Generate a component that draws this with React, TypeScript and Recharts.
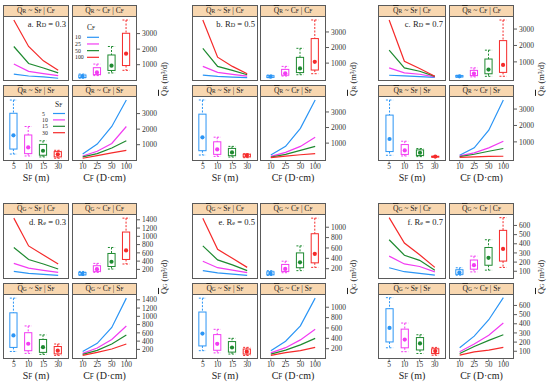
import React from "react";
import { Bar, ComposedChart, Line, XAxis, YAxis } from "recharts";

// category levels
const sfLevels = ["5", "10", "15", "30"];
const cfLevels = ["10", "25", "50", "100"];

// mean discharge, rows = SF (5, 10, 15, 30 m), cols = CF (10, 25, 50, 100 D·cm)
const qrA = [
  [400, 1040, 2170, 3870],
  [275, 575, 1080, 2170],
  [215, 430, 790, 1250],
  [130, 300, 470, 640],
];
const qrB = [
  [235, 790, 1950, 3770],
  [150, 405, 790, 1380],
  [105, 280, 530, 790],
  [65, 170, 255, 320],
];
const qrC = [
  [185, 635, 1715, 3550],
  [143, 330, 633, 1040],
  [102, 245, 430, 595],
  [60, 85, 120, 125],
];
const qgD = [
  [150, 345, 730, 1440],
  [103, 232, 440, 767],
  [79, 176, 330, 550],
  [55, 127, 208, 330],
];
const qgE = [
  [162, 345, 640, 1175],
  [120, 220, 370, 574],
  [97, 172, 275, 400],
  [70, 123, 163, 226],
];
const qgF = [
  [138, 265, 444, 685],
  [95, 180, 275, 408],
  [76, 152, 219, 280],
  [57, 93, 112, 142],
];

const ticksR = [1000, 2000, 3000];
const ticksD = [200, 400, 600, 800, 1000, 1200, 1400];
const ticksE = [200, 400, 600, 800, 1000];
const ticksF = [100, 200, 300, 400, 500, 600];

const domainA = [-80, 4130];
const domainB = [-180, 4025];
const domainC = [-195, 3795];
const domainD = [-45, 1540];
const domainE = [-8, 1255];
const domainF = [10, 725];

const rdLabels = ["0.3", "0.5", "0.7"];

const colors = ["#2b95f5", "#f23cf2", "#1e8a30", "#f52a2a"];
const serif = "Liberation Serif, Times New Roman, serif";
const frameColor = "#5a5a5a";
const stripFill = "#f8d7b0";

const cols = [
  { L: 3, LW: 66, R: 72, RW: 65 },
  { L: 192, LW: 66, R: 260, RW: 66 },
  { L: 378, LW: 68, R: 449, RW: 65 },
];
const rowTops = [4.5, 202.5];
const PH = 65.5;

function fivenum(vals: number[]) {
  const s = [...vals].sort((a, b) => a - b);
  return {
    min: s[0],
    q1: (s[0] + s[1]) / 2,
    med: (s[1] + s[2]) / 2,
    q3: (s[2] + s[3]) / 2,
    max: s[3],
  };
}

function BoxShape(props: any) {
  const { x, y, width, height, payload, index } = props;
  const top = Math.min(y, y + height);
  const bot = Math.max(y, y + height);
  const { min, max, q1, q3, med } = payload;
  const py = (v: number) => bot - ((bot - top) * (v - min)) / (max - min || 1);
  const cx = x + width / 2;
  const hw = 3.6;
  const c = colors[index];
  return (
    <g>
      <line x1={cx} x2={cx} y1={py(max)} y2={py(q3)} stroke={c} strokeDasharray="2 1.5" />
      <line x1={cx} x2={cx} y1={py(q1)} y2={py(min)} stroke={c} strokeDasharray="2 1.5" />
      <line x1={cx - hw} x2={cx + hw} y1={py(max)} y2={py(max)} stroke={c} strokeDasharray="2 1.5" />
      <line x1={cx - hw} x2={cx + hw} y1={py(min)} y2={py(min)} stroke={c} strokeDasharray="2 1.5" />
      <rect x={cx - hw} y={py(q3)} width={hw * 2} height={Math.max(0.5, py(q1) - py(q3))} fill="none" stroke={c} />
      <circle cx={cx} cy={py(med)} r={2.1} fill={c} />
    </g>
  );
}

const Sm = ({ children }: any) => <span style={{ fontSize: "0.72em" }}>{children}</span>;

function Title({ q, a, b }: { q: string; a: string; b: string }) {
  return (
    <>
      <span style={{ textDecoration: "overline" }}>Q</span>
      <Sm>{q}</Sm> ~ {a}
      <Sm>F</Sm> | {b}
      <Sm>F</Sm>
    </>
  );
}

const tickStyle = { fontSize: 7.5, fill: "#333", fontFamily: serif };

function Sub(props: any) {
  const { kind, rows, left, top, W, showX, showY, ticks, domain, title, children } = props;
  const pad = W * 0.052;
  return (
    <>
      <div
        style={{
          position: "absolute",
          left,
          top,
          width: W,
          height: 12,
          boxSizing: "border-box",
          border: `1px solid ${frameColor}`,
          background: stripFill,
          fontFamily: serif,
          fontSize: 7.6,
          lineHeight: "10px",
          textAlign: "center",
          color: "#222",
          whiteSpace: "nowrap",
        }}
      >
        {title}
      </div>
      <div style={{ position: "absolute", left, top: top + 11 }}>
        <ComposedChart
          width={W + (showY ? 32 : 0)}
          height={PH + (showX ? 13 : 0)}
          data={rows}
          margin={{ top: 0, right: 0, bottom: 0, left: 0 }}
        >
          <XAxis
            dataKey="x"
            type="category"
            scale="band"
            padding={{ left: pad, right: pad }}
            hide={!showX}
            height={13}
            tickSize={2}
            tickMargin={0}
            axisLine={false}
            interval={0}
            tick={tickStyle}
            tickLine={{ stroke: frameColor }}
          />
          <YAxis
            orientation="right"
            type="number"
            domain={domain}
            ticks={ticks}
            interval={0}
            allowDataOverflow
            hide={!showY}
            width={32}
            tickSize={3}
            tickMargin={2}
            axisLine={false}
            tick={tickStyle}
            tickLine={{ stroke: frameColor }}
          />
          {kind === "box" ? (
            <Bar
              dataKey={(d: any) => [d.min, d.max]}
              barSize={8}
              shape={BoxShape}
              isAnimationActive={false}
            />
          ) : (
            [0, 1, 2, 3].map((k) => (
              <Line
                key={k}
                type="linear"
                dataKey={`v${k}`}
                stroke={colors[k]}
                strokeWidth={1.2}
                dot={false}
                isAnimationActive={false}
              />
            ))
          )}
        </ComposedChart>
        <div
          style={{
            position: "absolute",
            left: 0,
            top: 0,
            width: W,
            height: PH,
            boxSizing: "border-box",
            border: `1px solid ${frameColor}`,
            pointerEvents: "none",
          }}
        />
        {children}
      </div>
    </>
  );
}

function LegendBox({ title, labels, textX, lineX, titleX, y0, step }: any) {
  return (
    <svg
      style={{ position: "absolute", left: 0, top: 0, overflow: "visible" }}
      width={40}
      height={40}
      fontFamily={serif}
    >
      <text x={titleX} y={y0 - 7} fontSize={7.5} fill="#222">
        {title}
        <tspan fontSize={5.5}>F</tspan>
      </text>
      {labels.map((l: string, i: number) => (
        <g key={l}>
          <text x={textX} y={y0 + i * step + 2} fontSize={5.8} fill="#222">
            {l}
          </text>
          <line x1={lineX} x2={lineX + 12} y1={y0 + i * step} y2={y0 + i * step} stroke={colors[i]} strokeWidth={1.2} />
        </g>
      ))}
    </svg>
  );
}

function Panel({ q, ticks, domain, col, rowTop, tag, qs, param, rd, legend }: any) {
  const c = cols[col];
  const bySf = sfLevels.map((x, i) => ({ x, v0: q[i][0], v1: q[i][1], v2: q[i][2], v3: q[i][3] }));
  const byCf = cfLevels.map((x, j) => ({ x, v0: q[0][j], v1: q[1][j], v2: q[2][j], v3: q[3][j] }));
  const boxCf = cfLevels.map((x, j) => ({ x, ...fivenum(q.map((r: number[]) => r[j])) }));
  const boxSf = sfLevels.map((x, i) => ({ x, ...fivenum(q[i]) }));
  const t2 = rowTop + 80;
  const common = { ticks, domain };
  const titleStyle: any = {
    position: "absolute",
    top: rowTop + 167,
    textAlign: "center",
    fontFamily: serif,
    fontSize: 10,
    lineHeight: "12px",
    color: "#222",
    whiteSpace: "nowrap",
  };
  return (
    <>
      <Sub kind="lines" rows={bySf} left={c.L} top={rowTop} W={c.LW} title={<Title q={qs} a="S" b="C" />} {...common}>
        <div
          style={{
            position: "absolute",
            right: 3,
            top: 3,
            fontFamily: serif,
            fontSize: 8.6,
            lineHeight: "10px",
            color: "#222",
            whiteSpace: "nowrap",
            textAlign: "right",
            width: 60,
          }}
        >
          {tag}. R<Sm>{param}</Sm> = {rd}
        </div>
      </Sub>
      <Sub kind="box" rows={boxCf} left={c.R} top={rowTop} W={c.RW} showY title={<Title q={qs} a="C" b="C" />} {...common}>
        {legend && (
          <LegendBox title="C" labels={cfLevels} textX={3} lineX={15} titleX={15} y0={21.3} step={6.67} />
        )}
      </Sub>
      <Sub kind="box" rows={boxSf} left={c.L} top={t2} W={c.LW} showX title={<Title q={qs} a="S" b="S" />} {...common}>
        {legend && (
          <LegendBox title="S" labels={sfLevels} textX={39} lineX={50} titleX={52} y0={17.5} step={6.4} />
        )}
      </Sub>
      <Sub kind="lines" rows={byCf} left={c.R} top={t2} W={c.RW} showX showY title={<Title q={qs} a="C" b="S" />} {...common} />
      <div style={{ ...titleStyle, left: c.L, width: c.LW }}>
        S<Sm>F</Sm> (m)
      </div>
      <div style={{ ...titleStyle, left: c.R, width: c.RW }}>
        C<Sm>F</Sm> (D·cm)
      </div>
      <div
        style={{
          position: "absolute",
          left: c.R + c.RW + 27 - 40,
          top: rowTop + 74 - 6,
          width: 80,
          height: 12,
          lineHeight: "12px",
          textAlign: "center",
          fontFamily: serif,
          fontSize: 8.5,
          color: "#222",
          transform: "rotate(-90deg)",
          transformOrigin: "40px 6px",
          whiteSpace: "nowrap",
        }}
      >
        <span style={{ textDecoration: "overline" }}>Q</span>
        <Sm>{qs}</Sm> (m³/d)
      </div>
    </>
  );
}

export default function App() {
  return (
    <div style={{ position: "absolute", left: 0, top: 0, width: 550, height: 387, background: "#fff", overflow: "hidden" }}>
      <Panel q={qrA} ticks={ticksR} domain={domainA} col={0} rowTop={rowTops[0]} tag="a" qs="R" param="D" rd={rdLabels[0]} legend />
      <Panel q={qrB} ticks={ticksR} domain={domainB} col={1} rowTop={rowTops[0]} tag="b" qs="R" param="D" rd={rdLabels[1]} />
      <Panel q={qrC} ticks={ticksR} domain={domainC} col={2} rowTop={rowTops[0]} tag="c" qs="R" param="D" rd={rdLabels[2]} />
      <Panel q={qgD} ticks={ticksD} domain={domainD} col={0} rowTop={rowTops[1]} tag="d" qs="G" param="e" rd={rdLabels[0]} />
      <Panel q={qgE} ticks={ticksE} domain={domainE} col={1} rowTop={rowTops[1]} tag="e" qs="G" param="e" rd={rdLabels[1]} />
      <Panel q={qgF} ticks={ticksF} domain={domainF} col={2} rowTop={rowTops[1]} tag="f" qs="G" param="e" rd={rdLabels[2]} />
    </div>
  );
}
